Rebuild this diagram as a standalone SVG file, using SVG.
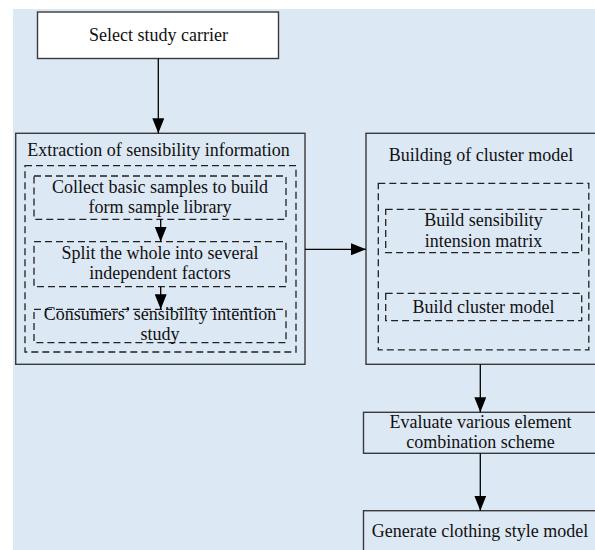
<svg xmlns="http://www.w3.org/2000/svg" width="595" height="550" viewBox="0 0 595 550">
<defs>
<style>
.box{fill:none;stroke:#3a3a3a;stroke-width:1.4}
.dash{fill:none;stroke:#222;stroke-width:1.3;stroke-dasharray:7 4}
.t{font-family:"Liberation Serif","Times New Roman",serif;font-size:18px;fill:#111;text-anchor:middle}
.c{stroke:#000;stroke-width:1.3;fill:none}
</style>
<marker id="ah" markerUnits="userSpaceOnUse" markerWidth="16" markerHeight="12" refX="15" refY="6" orient="auto">
<path d="M0,0 L15,6 L0,12 Z" fill="#000"/>
</marker>
</defs>
<rect x="0" y="0" width="595" height="550" fill="#fff"/>
<rect x="13" y="9" width="582" height="541" fill="#dde8f5"/>

<g id="select">
<rect x="37.5" y="12" width="241" height="46.5" fill="#fff" stroke="#3a3a3a" stroke-width="1.4"/>
<text class="t" x="158.5" y="40.5">Select study carrier</text>
</g>

<g id="extraction">
<rect class="box" x="15.7" y="133.3" width="289.3" height="231"/>
<text class="t" x="158.5" y="156">Extraction of sensibility information</text>
<rect class="dash" x="25" y="165.7" width="271" height="186.3"/>
</g>
<g id="collect">
<rect class="dash" x="34" y="176" width="252" height="43.3"/>
<text class="t" x="160" y="192.7">Collect basic samples to build</text>
<text class="t" x="160" y="212.7">form sample library</text>
</g>
<g id="split">
<rect class="dash" x="34" y="241.7" width="252" height="45"/>
<text class="t" x="160" y="259.3">Split the whole into several</text>
<text class="t" x="160" y="279.3">independent factors</text>
</g>
<g id="consumers">
<rect class="dash" x="34" y="309.3" width="252" height="33.4"/>
<text class="t" x="160" y="319.5">Consumers’ sensibility intention</text>
<text class="t" x="160" y="339.5">study</text>
</g>

<g id="building">
<rect class="box" x="366" y="133.3" width="240" height="231"/>
<text class="t" x="481" y="160.7">Building of cluster model</text>
<rect class="dash" x="378.3" y="183.3" width="210.5" height="166.5"/>
</g>
<g id="matrix">
<rect class="dash" x="385.7" y="209.3" width="196" height="43.4"/>
<text class="t" x="483.5" y="226">Build sensibility</text>
<text class="t" x="483.5" y="247">intension matrix</text>
</g>
<g id="cluster">
<rect class="dash" x="385.7" y="293.3" width="196" height="27.4"/>
<text class="t" x="483.5" y="312.7">Build cluster model</text>
</g>

<g id="evaluate">
<rect class="box" x="363.5" y="412.3" width="240" height="41"/>
<text class="t" x="480.5" y="427.7">Evaluate various element</text>
<text class="t" x="480.5" y="448.3">combination scheme</text>
</g>

<g id="generate">
<rect class="box" x="363.5" y="510.7" width="240" height="50"/>
<text class="t" x="480" y="536.7">Generate clothing style model</text>
</g>

<g id="connectors">
<line class="c" x1="158.3" y1="58.5" x2="158.3" y2="133.3" marker-end="url(#ah)"/>
<line class="c" x1="160.7" y1="219.3" x2="160.7" y2="241.7" marker-end="url(#ah)"/>
<line class="c" x1="160.7" y1="286.7" x2="160.7" y2="309.3" marker-end="url(#ah)"/>
<line class="c" x1="305" y1="249.3" x2="366" y2="249.3" marker-end="url(#ah)"/>
<line class="c" x1="480.3" y1="364.3" x2="480.3" y2="412.3" marker-end="url(#ah)"/>
<line class="c" x1="480.3" y1="453.3" x2="480.3" y2="510.7" marker-end="url(#ah)"/>
</g>
</svg>
